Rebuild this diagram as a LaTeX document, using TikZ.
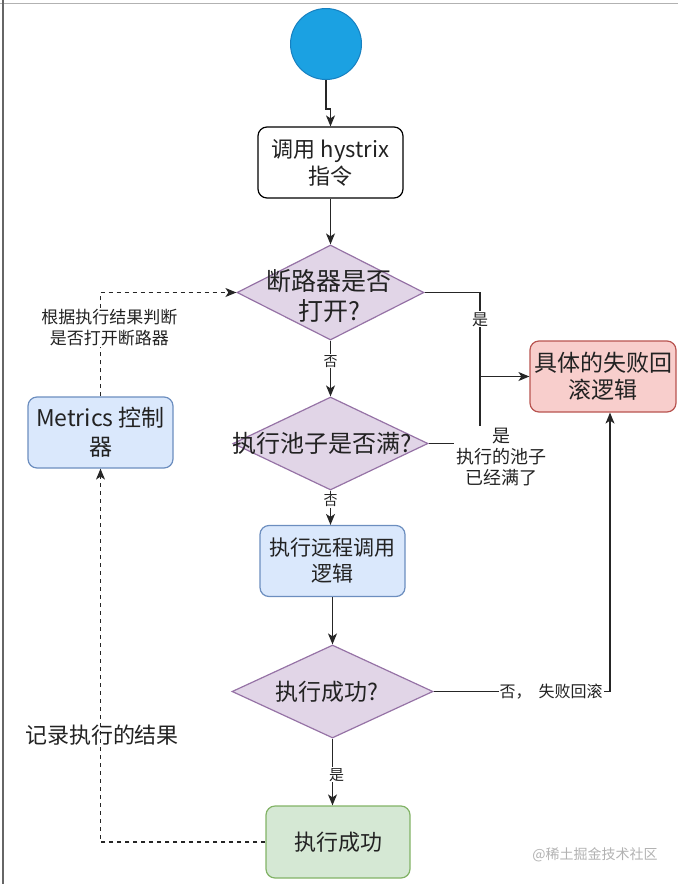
\documentclass[tikz,border=0pt]{standalone}
\usepackage{fontspec}
\setmainfont{Noto Sans CJK SC}
\usetikzlibrary{shapes.geometric,arrows.meta}
\definecolor{txt}{HTML}{222222}
\definecolor{cfill}{HTML}{1BA1E2}\definecolor{cline}{HTML}{1780C0}
\definecolor{pfill}{HTML}{E1D5E7}\definecolor{pline}{HTML}{9673A6}
\definecolor{rfill}{HTML}{F8CECC}\definecolor{rline}{HTML}{B85450}
\definecolor{bfill}{HTML}{DAE8FC}\definecolor{bline}{HTML}{6C8EBF}
\definecolor{gfill}{HTML}{D5E8D4}\definecolor{gline}{HTML}{82B366}
\tikzset{
  basebox/.style={rectangle,rounded corners=9pt,line width=1.2pt,align=center,inner sep=0pt,
    minimum width=145pt,minimum height=71pt,text=txt,font=\fontsize{22}{27}\selectfont},
  whitebox/.style={basebox,draw=black,fill=white},
  redbox/.style={basebox,draw=rline,fill=rfill},
  bluebox/.style={basebox,draw=bline,fill=bfill},
  greenbox/.style={basebox,draw=gline,fill=gfill},
  dia/.style={diamond,draw=pline,fill=pfill,line width=1.2pt,inner sep=0pt},
  dtext/.style={align=center,text=txt,inner sep=0pt,font=\fontsize{23}{29}\selectfont},
  arr/.style={line width=1.3pt,draw=black!85,-{Stealth[length=11pt,width=9pt,inset=3pt]}},
  plain/.style={line width=1.3pt,draw=black!85},
  darr/.style={line width=1.3pt,draw=black!85,dash pattern=on 4pt off 4pt,-{Stealth[length=11pt,width=9pt,inset=3pt]}},
  elab/.style={fill=white,text=txt,align=center,inner sep=1pt,font=\fontsize{14}{17}\selectfont},
}
\begin{document}
\begin{tikzpicture}[x=1pt,y=-1pt]
\useasboundingbox (0,0) rectangle (678,884);
\draw[black!30,line width=1pt] (0,3) -- (678,3);
\draw[black!60,line width=1.5pt] (3,0) -- (3,884);
% nodes
\node[circle,draw=cline,fill=cfill,line width=1pt,minimum size=71pt,inner sep=0pt] (start) at (326,44) {};
\node[whitebox] (call) at (330.5,162.5) {调用 hystrix\\指令};
\node[dia,minimum width=187pt,minimum height=95pt] (d1) at (330.5,292.5) {};
\node[dtext,font=\fontsize{25}{30}\selectfont] (d1t) at (329,296) {断路器是否\\打开?};
\node[redbox,minimum width=146pt,font=\fontsize{23}{27}\selectfont] (fail) at (603,376.5) {具体的失败回\\滚逻辑};
\node[dia,minimum width=195pt,minimum height=93pt] (d2) at (330.5,443.5) {};
\node[dtext,font=\fontsize{24}{29}\selectfont] (d2t) at (322,443.5) {执行池子是否满?};
\node[bluebox,font=\fontsize{21}{26}\selectfont] (remote) at (332.5,561) {执行远程调用\\逻辑};
\node[dia,minimum width=201pt,minimum height=93pt] (d3) at (332.5,691.5) {};
\node[dtext] (d3t) at (327,691.5) {执行成功?};
\node[greenbox,minimum width=144pt,minimum height=72pt] (ok) at (338,842) {执行成功};
\node[bluebox,font=\fontsize{23}{29}\selectfont] (metrics) at (100.5,432.5) {Metrics 控制\\器};
% connectors
\draw[arr] (start.south) -- ++(0,29) -| (call.north);
\draw[arr] (call.south) -- (d1.north);
\draw[arr] (d1.east) -- (480,292.5) |- (fail.west) node[elab,pos=0.16,font=\fontsize{16}{19}\selectfont] {是};
\draw[plain] (d2.east) -| (480,376.5);
\node[elab,font=\fontsize{18}{21}\selectfont,inner sep=2pt] (poolfull) at (501,457) {是\\执行的池子\\已经满了};
\draw[arr] (d1.south) -- (d2.north) node[elab,pos=0.37] {否};
\draw[arr] (d2.south) -- (d2.south |- remote.north) node[elab,pos=0.3] {否};
\draw[arr] (remote.south) -- (d3.north);
\draw[arr] (d3.east) -| ([xshift=7pt]fail.south) node[elab,pos=0.333,font=\fontsize{16}{19}\selectfont] {否，\ \ 失败回滚};
\draw[arr] (d3.south) -- (d3.south |- ok.north) node[elab,pos=0.54,xshift=4pt,font=\fontsize{15}{18}\selectfont] {是};
\draw[darr] (ok.west) -| (metrics.south);
\draw[darr] (metrics.north) |- (d1.west) node[elab,pos=0.33,xshift=9pt,font=\fontsize{17}{21}\selectfont] {根据执行结果判断\\是否打开断路器};
\node[text=txt,font=\fontsize{22}{26}\selectfont,inner sep=0pt] (rec) at (102,735) {记录执行的结果};
\node[text=black!30,font=\fontsize{14}{16}\selectfont,inner sep=0pt] (wm) at (595,855) {@稀土掘金技术社区};
\end{tikzpicture}
\end{document}
